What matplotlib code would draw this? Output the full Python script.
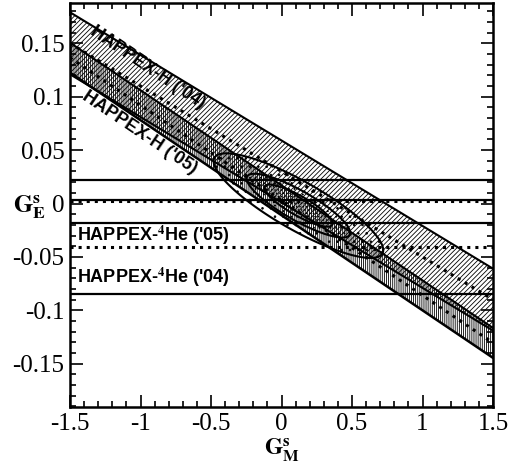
import numpy as np
import matplotlib
matplotlib.use('Agg')
import matplotlib.pyplot as plt
from matplotlib.ticker import MultipleLocator

# HAPPEX-H bands: G_E = intercept + slope * G_M  (+/- err)
h04_intercept, h04_slope, h04_err = 0.030, -0.080, 0.029
h05_intercept, h05_slope, h05_err = 0.003, -0.089, 0.014
# HAPPEX-4He bands: G_E = center +/- err
he05_center, he05_err = 0.002, 0.020
he04_center, he04_err = -0.041, 0.044
# combined fit contours
fit_center = [0.12, -0.002]
fit_sigma = [0.242, 0.0197]
fit_rho = -0.85
fit_levels = [1.0, 2.3, 6.18]

xticks = [-1.5, -1, -0.5, 0, 0.5, 1, 1.5]
xtick_labels = ['-1.5', '-1', '-0.5', '0', '0.5', '1', '1.5']
yticks = [-0.15, -0.1, -0.05, 0, 0.05, 0.1, 0.15]
ytick_labels = ['-0.15', '-0.1', '-0.05', '0', '0.05', '0.1', '0.15']

plt.rcParams['mathtext.fontset'] = 'stix'
plt.rcParams['hatch.linewidth'] = 0.6
plt.rcParams['axes.unicode_minus'] = False

fig = plt.figure(figsize=(5.1, 4.63), dpi=100)
ax = fig.add_axes([70 / 510, 1 - 407 / 463, 423 / 510, 404 / 463])
ax.set_xlim(-1.5, 1.5)
ax.set_ylim(-0.1905, 0.1877)

gm = np.linspace(-1.5, 1.5, 50)

# HAPPEX-H '04 (light, diagonal hatch)
c04 = h04_intercept + h04_slope * gm
ax.fill_between(gm, c04 - h04_err, c04 + h04_err, facecolor='none',
                edgecolor='black', hatch='///////', linewidth=0)
ax.plot(gm, c04 + h04_err, 'k-', lw=1.5)
ax.plot(gm, c04 - h04_err, 'k-', lw=1.5)
ax.plot(gm, c04, 'k:', lw=2.2)

# HAPPEX-H '05 (dark, vertical hatch)
c05 = h05_intercept + h05_slope * gm
ax.fill_between(gm, c05 - h05_err, c05 + h05_err, facecolor='none',
                edgecolor='black', hatch='||||||||', linewidth=0)
ax.plot(gm, c05 + h05_err, 'k-', lw=1.5)
ax.plot(gm, c05 - h05_err, 'k-', lw=1.8)
ax.plot(gm, c05, 'k:', lw=2.2)

# HAPPEX-4He lines
for c, e in [(he05_center, he05_err), (he04_center, he04_err)]:
    ax.axhline(c + e, color='black', lw=1.6)
    ax.axhline(c - e, color='black', lw=1.6)
    ax.axhline(c, color='black', lw=2.2, ls=':')

# fit ellipses
gx, gy = np.meshgrid(np.linspace(-1.5, 1.5, 400), np.linspace(-0.19, 0.19, 400))
dx = (gx - fit_center[0]) / fit_sigma[0]
dy = (gy - fit_center[1]) / fit_sigma[1]
chi2 = (dx**2 - 2 * fit_rho * dx * dy + dy**2) / (1 - fit_rho**2)
ax.contourf(gx, gy, chi2, levels=[0] + fit_levels, colors='none',
            hatches=['.....', '...', '..'])
ax.contour(gx, gy, chi2, levels=fit_levels, colors='black', linewidths=1.5)

lab_font = dict(family=['Liberation Sans', 'DejaVu Sans'], fontweight='bold', fontsize=13)
ax.text(-0.95, 0.127, "HAPPEX-H ('04)", rotation=-34, ha='center', va='center',
        rotation_mode='anchor', **lab_font)
ax.text(-1.01, 0.066, "HAPPEX-H ('05)", rotation=-34, ha='center', va='center',
        rotation_mode='anchor', **lab_font)
ax.text(-1.45, -0.0295, r"HAPPEX-$^{\mathbf{4}}$He ('05)", ha='left', va='center', **lab_font)
ax.text(-1.45, -0.069, r"HAPPEX-$^{\mathbf{4}}$He ('04)", ha='left', va='center', **lab_font)

ax.set_xticks(xticks)
ax.set_xticklabels(xtick_labels)
ax.set_yticks(yticks)
ax.set_yticklabels(ytick_labels)
ax.xaxis.set_minor_locator(MultipleLocator(0.1))
ax.yaxis.set_minor_locator(MultipleLocator(0.01))
ax.tick_params(which='both', direction='in', top=True, right=True, width=1.2)
ax.tick_params(which='major', length=9, labelsize=18, pad=4)
ax.tick_params(which='minor', length=4)
for lbl in ax.get_xticklabels() + ax.get_yticklabels():
    lbl.set_family('Liberation Serif')
for sp in ax.spines.values():
    sp.set_linewidth(1.8)

ax.text(-0.095, 0.495, r'$\mathbf{G}^{\mathbf{s}}_{\mathbf{E}}$', transform=ax.transAxes,
        ha='center', va='center', fontsize=18)
ax.text(0.5, -0.106, r'$\mathbf{G}^{\mathbf{s}}_{\mathbf{M}}$', transform=ax.transAxes,
        ha='center', va='center', fontsize=17)

fig.savefig('out.png', dpi=100)
